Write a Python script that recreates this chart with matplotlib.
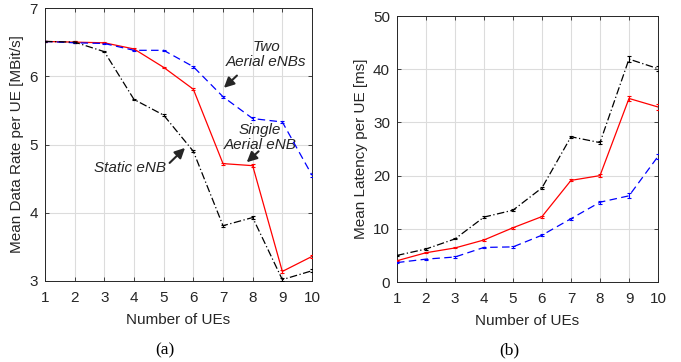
import matplotlib
matplotlib.use("Agg")
import matplotlib.pyplot as plt
import numpy as np

plt.rcParams['font.family'] = ['Liberation Sans', 'DejaVu Sans']

ues = [1, 2, 3, 4, 5, 6, 7, 8, 9, 10]

rate_single = [6.51, 6.50, 6.49, 6.40, 6.13, 5.81, 4.72, 4.69, 3.14, 3.36]
rate_two = [6.51, 6.49, 6.48, 6.38, 6.38, 6.14, 5.70, 5.38, 5.33, 4.55]
rate_static = [6.51, 6.50, 6.36, 5.66, 5.43, 4.90, 3.81, 3.93, 3.02, 3.15]

lat_single = [4.0, 5.5, 6.4, 7.9, 10.2, 12.3, 19.1, 20.0, 34.5, 32.9]
lat_two = [3.65, 4.3, 4.7, 6.5, 6.6, 8.8, 11.9, 15.0, 16.2, 23.6]
lat_static = [5.0, 6.2, 8.1, 12.2, 13.5, 17.7, 27.3, 26.2, 41.9, 40.1]

rate_err = [0.01, 0.01, 0.01, 0.01, 0.01, 0.015, 0.015, 0.02, 0.02, 0.02]
lat_err = [0.1, 0.1, 0.1, 0.15, 0.15, 0.2, 0.2, 0.3, 0.5, 0.5]

fig = plt.figure(figsize=(6.81, 3.62), dpi=100)
W, H = 681, 362
axL = fig.add_axes([45 / W, 1 - 281 / H, (312 - 45) / W, (281 - 8) / H])
axR = fig.add_axes([397 / W, 1 - 282 / H, (658 - 397) / W, (282 - 16) / H])

styles = [
    ('red', '-', None),
    ('blue', '--', (0, (6, 3.5))),
    ('black', '-.', (0, (6, 2, 1, 2))),
]

FS = 11

def draw(ax, series, errs):
    for (c, ls, dash), ys in zip(styles, series):
        ax.errorbar(ues, ys, yerr=errs, color=c, lw=0.9, capsize=1.6,
                    elinewidth=0.8, capthick=0.8,
                    linestyle=dash if dash else ls, zorder=3)
    ax.set_xlim(1, 10)
    ax.set_xticks(ues)
    ax.grid(True, color='#dcdcdc', lw=0.8)
    ax.set_axisbelow(True)
    ax.tick_params(direction='in', top=True, right=True, length=3,
                   labelsize=FS, colors='#262626', width=0.6)
    ax.tick_params(axis='x', pad=7)
    ax.tick_params(axis='y', pad=5)
    for s in ax.spines.values():
        s.set_color('#262626')
        s.set_linewidth(0.7)
    ax.set_xlabel('Number of UEs', fontsize=FS, color='#262626', labelpad=6)

draw(axL, [rate_single, rate_two, rate_static], rate_err)
axL.set_ylim(3, 7)
axL.set_yticks([3, 4, 5, 6, 7])
axL.set_ylabel('Mean Data Rate per UE [MBit/s]', fontsize=FS, color='#262626', labelpad=4)

draw(axR, [lat_single, lat_two, lat_static], lat_err)
axR.set_ylim(0, 50)
axR.set_yticks([0, 10, 20, 30, 40, 50])
axR.set_ylabel('Mean Latency per UE [ms]', fontsize=FS, color='#262626', labelpad=4)

ann = dict(fontsize=11, style='italic', color='#262626', ha='center', va='center',
           linespacing=1.1)
arrow = dict(arrowstyle='-|>,head_length=0.6,head_width=0.3', color='#262626', lw=1.5,
             shrinkA=0, shrinkB=0)
axL.annotate('', xy=(7.03, 5.83), xytext=(7.47, 6.01), arrowprops=arrow)
axL.text(8.45, 6.32, 'Two\nAerial eNBs', **ann)
axL.annotate('', xy=(7.8, 4.74), xytext=(8.2, 4.9), arrowprops=arrow)
axL.text(8.25, 5.10, 'Single\nAerial eNB', **ann)
axL.annotate('', xy=(5.72, 4.95), xytext=(5.2, 4.73), arrowprops=arrow)
axL.text(3.86, 4.66, 'Static eNB', **ann)

fig.text(165 / W, 1 - 350 / H, '(a)', fontsize=12.5, family=['Liberation Serif'],
         ha='center', va='center')
fig.text(509 / W, 1 - 350 / H, '(b)', fontsize=12.5, family=['Liberation Serif'],
         ha='center', va='center')

fig.savefig('out.png', dpi=100)
